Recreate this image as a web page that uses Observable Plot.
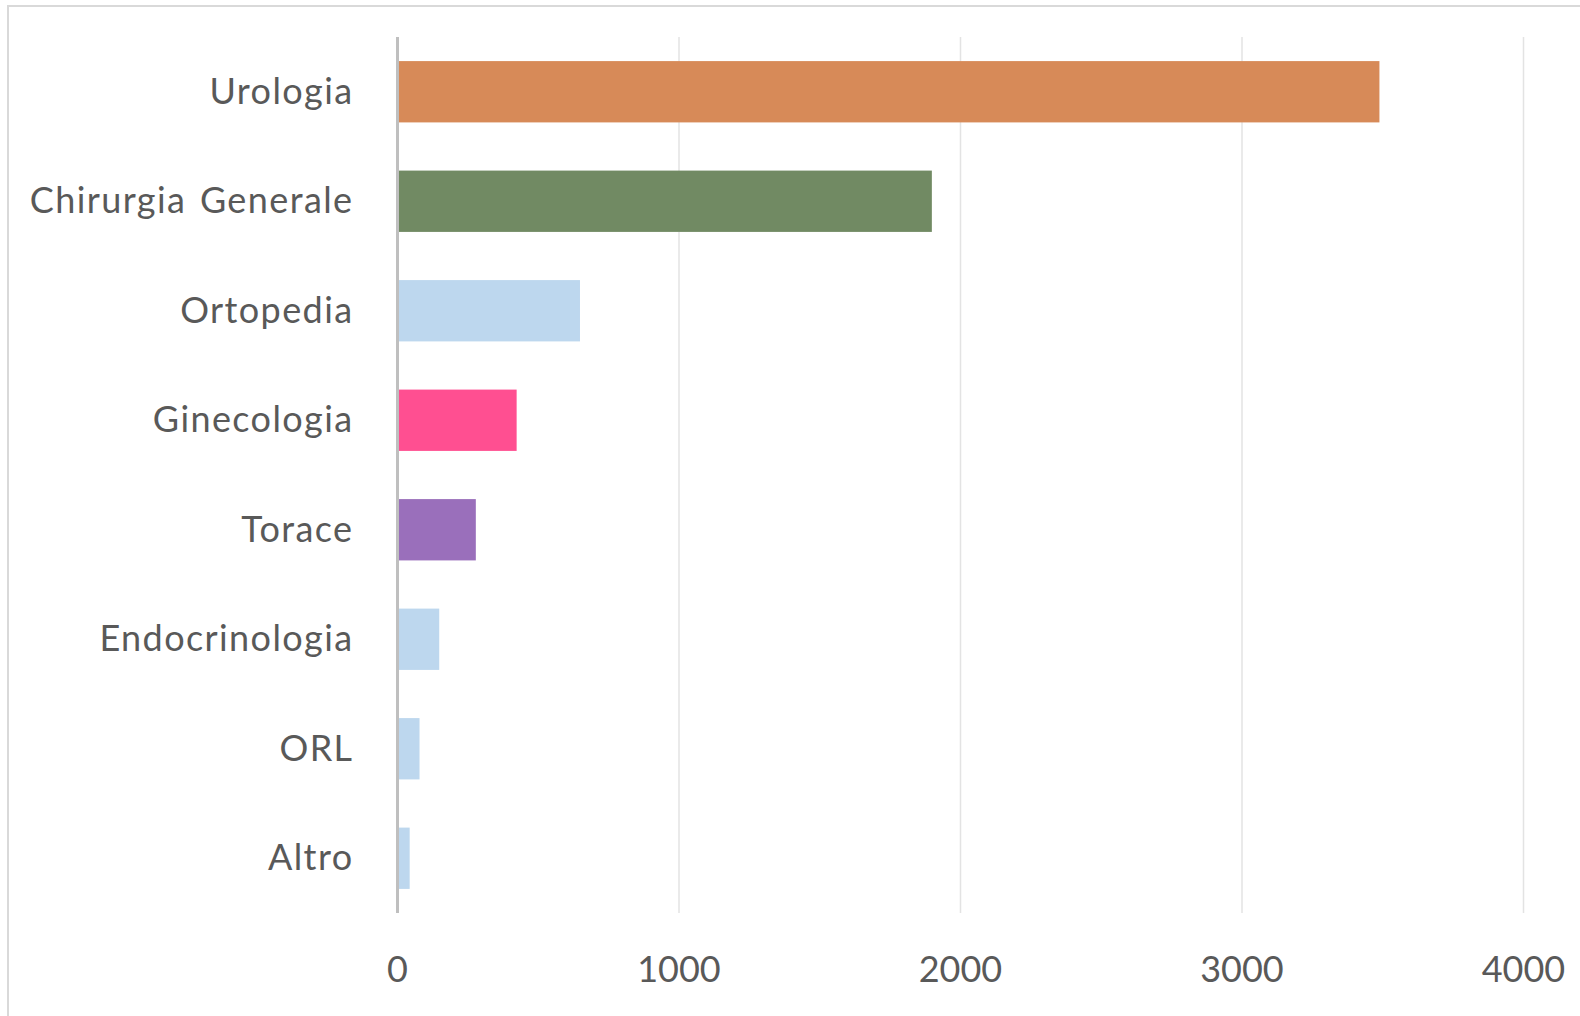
<!DOCTYPE html>
<html>
<head>
<meta charset="utf-8">
<script src="https://cdn.jsdelivr.net/npm/d3@7"></script>
<script src="https://cdn.jsdelivr.net/npm/@observablehq/plot@0.6"></script>
<style>
  html, body { margin: 0; padding: 0; background: #fff; }
  #wrap { position: relative; width: 1580px; height: 1016px; overflow: hidden; }
  #frame { position: absolute; left: 7px; top: 5px; width: 1600px; height: 1100px;
           border-left: 2.5px solid #d9d9d9; border-top: 2.5px solid #d9d9d9; box-sizing: border-box; }
  #chart { position: absolute; left: 0; top: 0; }
  .ylab text { letter-spacing: 1.4px; word-spacing: 3px; }
</style>
</head>
<body>
<div id="wrap"><div id="frame"></div><div id="chart"></div></div>
<script>
const categories = ["Urologia", "Chirurgia Generale", "Ortopedia", "Ginecologia", "Torace", "Endocrinologia", "ORL", "Altro"];
const values = [3490, 1900, 650, 425, 280, 150, 80, 45];
const colors = ["#D78A58", "#718A63", "#BDD7EE", "#FF4F91", "#9A6FBB", "#BDD7EE", "#BDD7EE", "#BDD7EE"];
const xTicks = [0, 1000, 2000, 3000, 4000];

const data = categories.map((c, i) => ({category: c, value: values[i], color: colors[i]}));

const chart = Plot.plot({
  width: 1580,
  height: 1016,
  marginLeft: 397,
  marginRight: 57,
  marginTop: 37,
  marginBottom: 103,
  style: {fontFamily: "Lato, sans-serif", color: "#595959", background: "transparent"},
  x: {domain: [0, 4000], ticks: xTicks},
  y: {domain: categories, paddingInner: 0.44, paddingOuter: 0.22, round: false},
  marks: [
    Plot.gridX(xTicks.filter(d => d > 0), {stroke: "#e3e3e3", strokeOpacity: 1, strokeWidth: 1.5}),
    Plot.barX(data, {y: "category", x: "value", fill: d => d.color}),
    Plot.ruleX([0], {stroke: "#bfbfbf", strokeWidth: 3}),
    Plot.axisY({tickSize: 0, tickPadding: 44, fontSize: 36, label: null, fill: "#595959", className: "ylab"}),
    Plot.axisX({ticks: xTicks, tickSize: 0, tickPadding: 43, fontSize: 36, label: null, fill: "#595959", tickFormat: d => String(d)})
  ]
});
document.getElementById("chart").appendChild(chart);
</script>
</body>
</html>
